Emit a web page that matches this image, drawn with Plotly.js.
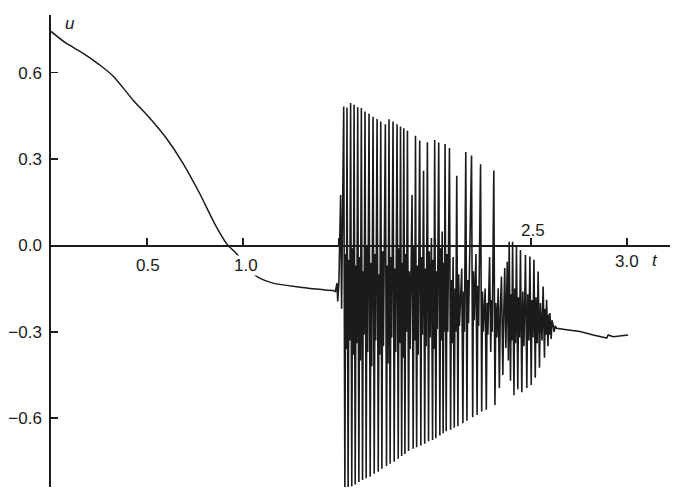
<!DOCTYPE html>
<html>
<head>
<meta charset="utf-8">
<script src="https://cdn.plot.ly/plotly-3.0.1.min.js"></script>
<style>html,body{margin:0;padding:0;background:#fff;}#chart{width:677px;height:490px;}</style>
</head>
<body>
<div id="chart"></div>
<script>
// ---- data (t, u) ----
// slow decay before the burst
const tDecay = [0, 0.079, 0.166, 0.253, 0.322, 0.427, 0.514, 0.601, 0.687, 0.774, 0.861, 0.919, 0.960, 1.047, 1.087, 1.156, 1.296, 1.469];
const uDecay = [0.743, 0.702, 0.668, 0.627, 0.589, 0.505, 0.442, 0.372, 0.286, 0.181, 0.065, 0.002, -0.024, -0.094, -0.114, -0.131, -0.145, -0.157];

// onset of the burst
const tOnset = [1.482, 1.490, 1.494, 1.500, 1.509, 1.514];
const uOnset = [-0.160, -0.131, -0.195, -0.125, 0.175, -0.220];

const tBurst1 = [
1.525,1.531,1.535,1.539, 1.542,1.548,1.552,1.556, 1.561,1.567,1.571,1.575, 1.579,1.585,1.589,1.593,
1.598,1.604,1.608,1.612, 1.617,1.623,1.627,1.631, 1.636,1.642,1.646,1.650, 1.657,1.663,1.667,1.671,
1.678,1.684,1.688,1.692, 1.699,1.705,1.709,1.713, 1.718,1.724,1.728,1.732, 1.742,1.748,1.752,1.756,
1.761,1.767,1.771,1.775, 1.782,1.788,1.792,1.796, 1.803,1.809,1.813,1.817, 1.821,1.827,1.831,1.834,
1.838,1.844,1.848,1.852, 1.857,1.863,1.867,1.871, 1.881,1.887,1.891,1.895, 1.899,1.905,1.909,1.913,
1.921,1.927,1.931,1.935, 1.941,1.947,1.951,1.955, 1.961,1.967,1.971,1.975, 1.982,1.988,1.991,1.995,
1.999,2.005,2.009,2.013, 2.020,2.026,2.030,2.034, 2.038,2.043,2.047,2.050, 2.053,2.059,2.063,2.067,
2.076,2.082,2.086,2.090, 2.095,2.101,2.105,2.109, 2.114,2.120,2.124,2.128, 2.140,2.146,2.150,2.154,
2.161,2.167,2.171,2.175, 2.191,2.197,2.201,2.205, 2.214,2.220,2.224,2.228, 2.238,2.244,2.248,2.252,
2.262,2.268,2.272,2.276, 2.285,2.291,2.295,2.299, 2.307,2.313,2.318,2.323,
2.330,2.336,2.341, 2.347,2.354,2.359, 2.364,2.370, 2.377,2.383];
const uBurst1 = [
0.482,-0.843,-0.03,-0.36, 0.479,-0.840,-0.05,-0.33, 0.494,-0.836,-0.01,-0.38, 0.488,-0.830,-0.07,-0.34,
0.480,-0.822,-0.04,-0.40, 0.477,-0.815,-0.09,-0.31, 0.465,-0.809,0.00,-0.37, 0.457,-0.803,-0.06,-0.42,
0.447,-0.793,-0.03,-0.33, 0.439,-0.786,-0.10,-0.38, 0.430,-0.776,-0.02,-0.35, 0.421,-0.766,-0.07,-0.41,
0.438,-0.758,-0.04,-0.32, 0.430,-0.751,-0.08,-0.37, 0.421,-0.741,-0.01,-0.34, 0.413,-0.731,-0.06,-0.39,
0.407,-0.724,-0.03,-0.30, 0.398,-0.714,-0.09,-0.36, 0.175,-0.706,0.00,-0.33, 0.381,-0.701,-0.07,-0.38,
0.364,-0.695,-0.04,-0.31, 0.259,-0.689,-0.08,-0.35, 0.358,-0.680,-0.02,-0.32, 0.026,-0.676,-0.05,-0.36,
0.366,-0.670,-0.09,-0.29, 0.357,-0.660,-0.01,-0.33, 0.048,-0.652,-0.06,-0.30, 0.352,-0.645,-0.03,-0.30,
0.338,-0.640,-0.12,-0.34, -0.04,-0.633,-0.15,-0.30, 0.242,-0.628,-0.10,-0.28, -0.08,-0.618,-0.16,-0.30,
0.324,-0.609,-0.12,-0.27, 0.312,-0.597,-0.09,-0.26, -0.03,-0.589,-0.14,-0.28, 0.282,-0.577,-0.16,-0.30,
-0.15,-0.571,-0.20,-0.31, -0.04,-0.37,-0.19,-0.30, 0.260,-0.554,-0.20,-0.32,
-0.149,-0.495,-0.22, -0.108,-0.450,-0.24, -0.079,-0.356, -0.057,-0.40];

const tBurst2 = [
2.387,2.394,2.398,2.401, 2.405,2.412,2.416,2.420, 2.425,2.432,2.436,2.441, 2.446,2.453,2.458,2.464,2.468,
2.472,2.479,2.484,2.490, 2.495,2.502,2.506,2.511, 2.516,2.523,2.527,2.533, 2.538,2.545,2.550,2.558,
2.564,2.571,2.575,2.579, 2.582,2.589,2.593,2.596, 2.599,2.606,2.610, 2.616,2.621,2.627];
const uBurst2 = [
0.013,-0.47,-0.17,-0.33, 0.013,-0.52,-0.15,-0.34, -0.004,-0.50,-0.18,-0.32, -0.016,-0.51,-0.16,-0.35,-0.20,
-0.033,-0.495,-0.17,-0.33, -0.039,-0.485,-0.19,-0.32, -0.050,-0.46,-0.18,-0.34, -0.091,-0.425,-0.20,-0.33,
-0.143,-0.39,-0.22,-0.31, -0.189,-0.35,-0.24,-0.31, -0.235,-0.325,-0.26, -0.276,-0.30,-0.28];

const tTail = [2.634, 2.686, 2.756, 2.825, 2.877, 2.895, 2.903, 2.929, 3.007];
const uTail = [-0.288, -0.293, -0.299, -0.311, -0.319, -0.322, -0.311, -0.317, -0.311];

const yTickVals = [-0.6, -0.3, 0, 0.3, 0.6];
const yTickText = ['\u22120.6', '\u22120.3', '0.0', '0.3', '0.6'];
const xTickVals = [0.5, 1.0, 1.5, 2.0, 2.5, 3.0];
const xLabelVals = [0.5, 1.0, 2.5, 3.0];
const xLabelText = ['0.5', '1.0', '2.5', '3.0'];

// ---- chart ----
const lastT = tDecay[tDecay.length - 1], lastU = uDecay[uDecay.length - 1];
const T2 = [lastT].concat(tOnset, tBurst1, tBurst2, tTail);
const U2 = [lastU].concat(uOnset, uBurst1, uBurst2, uTail);

const yRange = [-0.839, 0.80];
const xRange = [0, 3.225];
const ink = '#1b1b1b';
const fontFam = 'Liberation Sans, Arial, Helvetica, sans-serif';

const traceDecay = {
  x: tDecay, y: uDecay, type: 'scatter', mode: 'lines',
  line: {color: ink, width: 1.5, shape: 'spline', smoothing: 0.8, simplify: false},
  hoverinfo: 'skip'
};
const traceBurst = {
  x: T2, y: U2, type: 'scatter', mode: 'lines',
  line: {color: ink, width: 1.6, simplify: false},
  hoverinfo: 'skip'
};

// label placement offsets (pixels) per x label
const xShift = [1, 3, 2, 0];
const yShift = [-20, -20, 15, -16];
const annotations = xLabelVals.map((v, i) => ({
  x: v, y: 0, xref: 'x', yref: 'y', text: xLabelText[i], showarrow: false,
  xshift: xShift[i], yshift: yShift[i],
  font: {family: fontFam, size: 17, color: ink},
  bgcolor: v === 1.0 ? '#ffffff' : 'rgba(0,0,0,0)', borderpad: 0
}));
annotations.push({x: 3.147, y: 0, xref: 'x', yref: 'y', text: '<i>t</i>', showarrow: false,
  yshift: -15, font: {family: fontFam, size: 17, color: ink}});
annotations.push({x: 0.098, y: 0.772, xref: 'x', yref: 'y', text: '<i>u</i>', showarrow: false,
  font: {family: fontFam, size: 17, color: ink}});

const layout = {
  width: 677, height: 490,
  margin: {l: 51, r: 7, t: 15, b: 3},
  paper_bgcolor: '#ffffff', plot_bgcolor: '#ffffff',
  showlegend: false,
  font: {family: fontFam, size: 17, color: ink},
  xaxis: {
    range: xRange, anchor: 'free',
    position: (0 - yRange[0]) / (yRange[1] - yRange[0]),
    showline: true, linecolor: ink, linewidth: 1.7,
    ticks: 'inside', ticklen: 7, tickwidth: 1.5, tickcolor: ink,
    tickvals: xTickVals, showticklabels: false,
    showgrid: false, zeroline: false, fixedrange: true
  },
  yaxis: {
    range: yRange,
    showline: true, linecolor: ink, linewidth: 1.7,
    ticks: 'inside', ticklen: 7, tickwidth: 1.5, tickcolor: ink,
    tickvals: yTickVals, ticktext: yTickText,
    tickfont: {family: fontFam, size: 17, color: ink},
    ticklabelstandoff: 4,
    showgrid: false, zeroline: false, fixedrange: true
  },
  annotations: annotations
};

Plotly.newPlot('chart', [traceDecay, traceBurst], layout, {displayModeBar: false, staticPlot: true});
</script>
</body>
</html>
